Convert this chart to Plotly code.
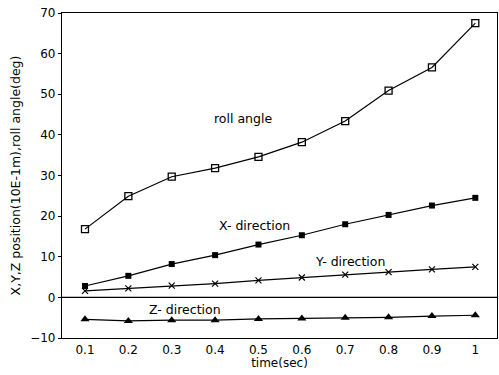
import plotly.graph_objects as go

time = [0.1, 0.2, 0.3, 0.4, 0.5, 0.6, 0.7, 0.8, 0.9, 1.0]
roll_angle = [16.8, 24.9, 29.7, 31.8, 34.6, 38.2, 43.4, 50.9, 56.6, 67.5]
x_dir = [2.8, 5.3, 8.2, 10.4, 13.0, 15.3, 18.0, 20.3, 22.6, 24.5]
y_dir = [1.6, 2.2, 2.9, 3.4, 4.2, 4.9, 5.6, 6.2, 6.9, 7.5]
z_dir = [-5.4, -5.8, -5.6, -5.6, -5.3, -5.2, -5.0, -4.9, -4.6, -4.4]

x_ticks = [0.1, 0.2, 0.3, 0.4, 0.5, 0.6, 0.7, 0.8, 0.9, 1.0]
x_ticklabels = ["0.1", "0.2", "0.3", "0.4", "0.5", "0.6", "0.7", "0.8", "0.9", "1"]
y_ticks = [-10, 0, 10, 20, 30, 40, 50, 60, 70]

FONT = "DejaVu Sans, Liberation Sans, Arial, sans-serif"

fig = go.Figure()
fig.add_trace(go.Scatter(x=time, y=roll_angle, mode="lines+markers",
                         line=dict(color="black", width=1.2),
                         marker=dict(symbol="square-open", size=7, color="black", line=dict(width=1.3))))
fig.add_trace(go.Scatter(x=time, y=x_dir, mode="lines+markers",
                         line=dict(color="black", width=1.2),
                         marker=dict(symbol="square", size=6, color="black")))
fig.add_trace(go.Scatter(x=time, y=y_dir, mode="lines+markers",
                         line=dict(color="black", width=1.2),
                         marker=dict(symbol="x-thin", size=6, color="black", line=dict(width=1.2, color="black"))))
fig.add_trace(go.Scatter(x=time, y=z_dir, mode="lines+markers",
                         line=dict(color="black", width=1.2),
                         marker=dict(symbol="triangle-up", size=8, color="black")))

fig.add_hline(y=0, line=dict(color="black", width=1.2))

annots = [
    ("roll angle", 0.397, 44.0),
    ("X- direction", 0.408, 17.7),
    ("Y- direction", 0.631, 8.9),
    ("Z- direction", 0.247, -3.0),
]
for text, ax, ay in annots:
    fig.add_annotation(x=ax, y=ay, text=text, showarrow=False, xanchor="left",
                       xshift=-2, font=dict(family=FONT, size=12.5, color="black"))

fig.update_layout(
    width=499, height=375,
    margin=dict(l=62, r=2, t=13, b=37),
    paper_bgcolor="white", plot_bgcolor="white",
    showlegend=False,
    font=dict(family=FONT, size=12, color="black"),
    xaxis=dict(range=[0.047, 1.05], tickvals=x_ticks, ticktext=x_ticklabels,
               showgrid=False, zeroline=False, showline=True, linecolor="black",
               linewidth=1.2, mirror=True, ticks="", ticklen=0,
               tickfont=dict(size=12),
               title=dict(text="time(sec)", standoff=3, font=dict(size=12))),
    yaxis=dict(range=[-10, 70], tickvals=y_ticks, showgrid=False, zeroline=False,
               showline=True, linecolor="black", linewidth=1.2, mirror=True,
               ticks="outside", ticklen=3, tickcolor="black",
               tickfont=dict(size=12),
               title=dict(text="X,Y,Z position(10E-1m),roll angle(deg)", standoff=6,
                          font=dict(size=12.5))),
)

fig.write_html("out.html")
